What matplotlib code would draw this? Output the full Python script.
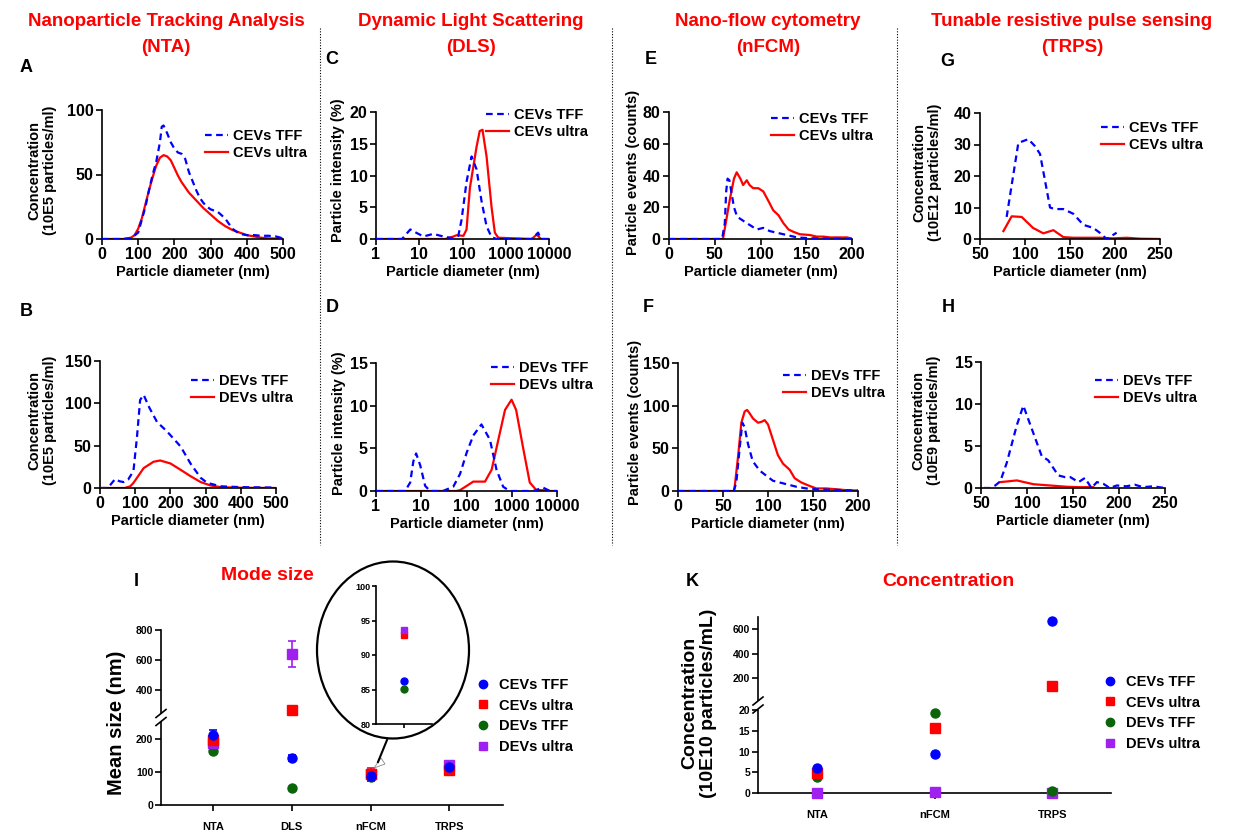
import numpy as np
import matplotlib.pyplot as plt
from matplotlib.patches import Ellipse, Polygon
from matplotlib.lines import Line2D

W, H = 1240, 832

plt.rcParams['font.family'] = ['Liberation Sans', 'DejaVu Sans']
plt.rcParams['font.weight'] = 'bold'
plt.rcParams['axes.labelweight'] = 'bold'
plt.rcParams['axes.linewidth'] = 1.2
plt.rcParams['xtick.major.width'] = 1.2
plt.rcParams['ytick.major.width'] = 1.2
plt.rcParams['xtick.major.size'] = 4
plt.rcParams['ytick.major.size'] = 4

BLUE = '#0000ff'
RED = '#ff0000'
GREEN = '#0a640a'
PURPLE = '#a020f0'

# ---- A: NTA, CEVs ----
a_tff_x = [0, 50, 80, 100, 110, 120, 130, 140, 150, 160, 165, 170, 180, 190, 200, 210, 220, 230, 240, 250,
           260, 270, 280, 290, 300, 320, 340, 360, 380, 400, 420, 440, 460, 480, 500]
a_tff_y = [0, 0, 0.5, 5, 15, 25, 38, 50, 60, 75, 87, 88, 82, 75, 70, 67, 66, 62, 52, 45,
           38, 32, 28, 25, 23, 21, 16, 8, 4, 3, 3, 2.5, 2.5, 2, 0.5]
a_ult_x = [0, 60, 80, 90, 100, 110, 120, 130, 140, 150, 160, 170, 180, 190, 200, 210, 220, 230, 240,
           260, 280, 300, 320, 340, 360, 380, 400, 420, 440, 460, 500]
a_ult_y = [0, 0, 1, 3, 8, 16, 27, 38, 48, 57, 63, 65, 64, 61, 55, 49, 44, 40, 36,
           30, 24, 19, 14, 10, 7, 5, 3, 2, 1, 0.5, 0.2]

# ---- B: NTA, DEVs ----
b_tff_x = [0, 20, 30, 43, 55, 67, 80, 95, 105, 114, 124, 140, 162, 190, 229, 257, 286, 305, 343, 400, 500]
b_tff_y = [0, 0, 4, 10.6, 8, 7, 10, 20, 60, 104, 110, 95, 78, 67, 49, 29, 12, 6, 2, 1, 0.5]
b_ult_x = [0, 70, 86, 95, 105, 124, 152, 171, 200, 229, 257, 286, 314, 343, 400, 500]
b_ult_y = [0, 0, 2, 6, 12, 23.5, 31, 32.5, 29, 21.5, 14, 7, 3, 1, 0.3, 0]

# ---- C: DLS, CEVs ----
c_tff_x = [1, 4, 6.2, 9, 12.5, 21, 36, 62, 80, 95, 124, 162, 211, 275, 360, 470, 610, 4000, 5600, 6500, 10000]
c_tff_y = [0, 0, 1.5, 0.9, 0.4, 0.8, 0.4, 0.1, 0.5, 3, 9, 13, 11, 6, 2, 0.3, 0, 0, 1, 0, 0]
c_ult_x = [1, 40, 62, 73, 105, 124, 148, 211, 250, 290, 360, 470, 560, 670, 4000, 5200, 6500, 10000]
c_ult_y = [0, 0, 0.4, 0.6, 0.5, 1.5, 8, 14.5, 17, 17.2, 13, 5, 1, 0.2, 0, 0.7, 0, 0]

# ---- D: DLS, DEVs ----
d_tff_x = [1, 4.4, 5.7, 6.7, 7.7, 9.5, 12.2, 15.7, 30, 51, 72, 101, 141, 214, 330, 460, 645, 900, 3000, 4900, 7000, 10000]
d_tff_y = [0, 0, 1, 3.5, 4.4, 3, 0.6, 0, 0, 0.5, 2, 4.5, 6.5, 7.8, 6, 2.5, 0.5, 0, 0, 0.4, 0, 0]
d_ult_x = [1, 60, 72, 101, 141, 181, 256, 360, 505, 710, 990, 1250, 1790, 2500, 3500, 4900, 7000, 10000]
d_ult_y = [0, 0, 0.1, 0.6, 1.1, 1.1, 1.1, 2.5, 6, 9.5, 10.7, 9.5, 5, 1, 0.1, 0.1, 0, 0]

# ---- E: nFCM, CEVs ----
e_tff_x = [0, 58, 61, 62.5, 64, 66, 71, 74.5, 85, 96, 103, 110, 125, 140, 154, 200]
e_tff_y = [0, 0, 10, 30, 38, 37, 20, 14, 10, 6, 7, 5, 3, 1, 0.5, 0]
e_ult_x = [0, 59, 66.5, 71, 74, 78, 81, 85, 88, 92, 97.6, 103, 108.6, 114, 119.6, 125, 130.6, 136,
           143, 154, 161.6, 169, 176, 187, 194.5, 200]
e_ult_y = [0, 0, 25, 38, 42, 38, 34, 37, 34, 32, 32, 30, 24, 18, 15, 10, 6, 4.5,
           3, 2.5, 1.5, 1.5, 1, 1, 1, 0.3]

# ---- F: nFCM, DEVs ----
f_tff_x = [0, 62, 64.8, 68.5, 71.5, 74, 77.8, 83, 90.7, 98, 105.5, 116.7, 131.5, 142.6, 153.7, 200]
f_tff_y = [0, 0, 10, 50, 80, 75, 55, 35, 24, 18, 12, 9, 5, 3, 2, 0.5]
f_ult_x = [0, 62, 63, 66.7, 70.4, 74, 76.7, 79.6, 83.3, 88.9, 92.6, 96.3, 100, 105.5, 111, 116.7, 124,
           129.6, 137, 146, 153.7, 164.8, 176, 187, 200]
f_ult_y = [0, 0, 5, 40, 80, 93, 95, 91, 85, 80, 81, 83, 78, 60, 42, 32, 25,
           15, 10, 6, 3, 3, 2, 1, 0.5]

# ---- G: TRPS, CEVs ----
g_tff_x = [79.6, 92.6, 103.7, 111, 116.7, 127.8, 133, 142.6, 153.7, 164.8, 176, 183, 190.7, 201.8]
g_tff_y = [7, 30.5, 31.7, 29.5, 27, 10, 9.5, 9.5, 8, 4.5, 3.5, 2, 0, 2]
g_ult_x = [76, 85.2, 96.3, 109, 120.4, 131.5, 142.6, 153.7, 168.5, 183, 198, 213, 227.8, 250]
g_ult_y = [2.5, 7.2, 7, 3.5, 1.8, 2.8, 0.6, 0.4, 0.4, 0.4, 0.2, 0.4, 0.1, 0]

# ---- H: TRPS, DEVs ----
h_tff_x = [53, 60, 65.5, 71, 78, 89, 96, 107, 116, 123, 134, 141, 147, 156, 163, 170, 176, 183, 190,
           197.6, 208, 217, 226, 237, 250]
h_tff_y = [0, 0, 0.3, 0.8, 3, 7.5, 9.8, 6.5, 3.8, 3.3, 1.5, 1.3, 1.3, 0.7, 1.2, 0, 0.7, 0.5, 0,
           0.3, 0.2, 0.4, 0.1, 0.2, 0]
h_ult_x = [71, 89, 107, 125, 143, 157, 172]
h_ult_y = [0.7, 0.9, 0.45, 0.3, 0.15, 0.1, 0.1]

# ---- I: mode size ----
methods_i = ['NTA', 'DLS', 'nFCM', 'TRPS']
mode_cev_tff = [212, 142, 86.2, 114]
mode_cev_tff_err = [14, 10, 15, 5]
mode_cev_ult = [197, 268, 92.9, 106]
mode_cev_ult_err = [10, 0, 18, 0]
mode_dev_tff = [164, 51, 85.1, 112]
mode_dev_ult = [187, 640, 93.6, 119]
mode_dev_ult_err = [0, 85, 0, 0]

# ---- K: concentration ----
methods_k = ['NTA', 'nFCM', 'TRPS']
conc_cev_tff = [6.1, 9.3, 668]
conc_cev_ult = [4.7, 15.6, 137]
conc_dev_tff = [3.8, 19.2, 0.5]
conc_dev_ult = [0.1, 0.2, 0.1]

fig = plt.figure(figsize=(12.4, 8.32), dpi=100)


def box(l, t, r, b):
    return [l / W, 1 - b / H, (r - l) / W, (b - t) / H]


def fp(x, y):
    return x / W, 1 - y / H


TICK_FS = 11.5
LAB_FS = 10.5


def dist_panel(rect, tff, ult, labels, xlim, xticks, ylim, yticks, leg, ylabel, ylab_xy, log=False):
    ax = fig.add_axes(box(*rect))
    ax.plot(tff[0], tff[1], color=BLUE, lw=1.6, ls=(0, (3, 2)), label=labels[0], zorder=3)
    ax.plot(ult[0], ult[1], color=RED, lw=1.6, label=labels[1], zorder=2)
    if log:
        ax.set_xscale('log')
        ax.minorticks_off()
        ax.set_xticks(xticks)
        ax.set_xticklabels([str(v) for v in xticks])
    else:
        ax.set_xticks(xticks)
    ax.set_xlim(*xlim)
    ax.set_ylim(*ylim)
    ax.set_yticks(yticks)
    for s in ['top', 'right']:
        ax.spines[s].set_visible(False)
    ax.tick_params(labelsize=TICK_FS, pad=2)
    ax.set_xlabel('Particle diameter (nm)', fontsize=LAB_FS, labelpad=2)
    fig.text(*fp(*ylab_xy), ylabel, rotation=90, ha='center', va='center',
             fontsize=LAB_FS, multialignment='center', linespacing=1.1)
    ax.legend(loc='upper left', bbox_to_anchor=fp(leg[0], leg[1] - 6), bbox_transform=fig.transFigure,
              frameon=False, fontsize=10.5, borderpad=0, borderaxespad=0, labelspacing=0.2,
              handlelength=1.6, handletextpad=0.35)
    return ax


dist_panel((102, 110, 283, 239), (a_tff_x, a_tff_y), (a_ult_x, a_ult_y), ['CEVs TFF', 'CEVs ultra'],
           (0, 500), [0, 100, 200, 300, 400, 500], (0, 100), [0, 50, 100], (205, 135),
           'Concentration\n(10E5 particles/ml)', (42, 170))
dist_panel((100, 361, 276, 488), (b_tff_x, b_tff_y), (b_ult_x, b_ult_y), ['DEVs TFF', 'DEVs ultra'],
           (0, 500), [0, 100, 200, 300, 400, 500], (0, 150), [0, 50, 100, 150], (191, 380),
           'Concentration\n(10E5 particles/ml)', (42, 420))
dist_panel((376, 112, 549, 239), (c_tff_x, c_tff_y), (c_ult_x, c_ult_y), ['CEVs TFF', 'CEVs ultra'],
           (1, 10000), [1, 10, 100, 1000, 10000], (0, 20), [0, 5, 10, 15, 20], (486, 114),
           'Particle intensity (%)', (338, 170), log=True)
dist_panel((376, 363, 557, 491), (d_tff_x, d_tff_y), (d_ult_x, d_ult_y), ['DEVs TFF', 'DEVs ultra'],
           (1, 10000), [1, 10, 100, 1000, 10000], (0, 15), [0, 5, 10, 15], (491, 367),
           'Particle intensity (%)', (339, 423), log=True)
dist_panel((669, 112, 852, 239), (e_tff_x, e_tff_y), (e_ult_x, e_ult_y), ['CEVs TFF', 'CEVs ultra'],
           (0, 200), [0, 50, 100, 150, 200], (0, 80), [0, 20, 40, 60, 80], (771, 118),
           'Particle events (counts)', (633, 172))
dist_panel((678, 363, 858, 491), (f_tff_x, f_tff_y), (f_ult_x, f_ult_y), ['DEVs TFF', 'DEVs ultra'],
           (0, 200), [0, 50, 100, 150, 200], (0, 150), [0, 50, 100, 150], (783, 375),
           'Particle events (counts)', (635, 422))
dist_panel((980, 113, 1160, 239), (g_tff_x, g_tff_y), (g_ult_x, g_ult_y), ['CEVs TFF', 'CEVs ultra'],
           (50, 250), [50, 100, 150, 200, 250], (0, 40), [0, 10, 20, 30, 40], (1101, 127),
           'Concentration\n(10E12 particles/ml)', (927, 172))
dist_panel((981, 362, 1165, 488), (h_tff_x, h_tff_y), (h_ult_x, h_ult_y), ['DEVs TFF', 'DEVs ultra'],
           (50, 250), [50, 100, 150, 200, 250], (0, 15), [0, 5, 10, 15], (1095, 380),
           'Concentration\n(10E9 particles/ml)', (926, 420))

# section titles
TITLE_FS = 13.5
for cx, l1, l2 in [(166, 'Nanoparticle Tracking Analysis', '(NTA)'),
                   (471, 'Dynamic Light Scattering', '(DLS)'),
                   (768, 'Nano-flow cytometry', '(nFCM)'),
                   (1072, 'Tunable resistive pulse sensing', '(TRPS)')]:
    fig.text(*fp(cx, 22), l1, color=RED, fontsize=TITLE_FS, ha='center', va='center')
    fig.text(*fp(cx, 47), l2, color=RED, fontsize=TITLE_FS, ha='center', va='center')

for lx, ly, s in [(20, 68, 'A'), (20, 312, 'B'), (325, 60, 'C'), (326, 308, 'D'),
                  (645, 60, 'E'), (643, 308, 'F'), (940, 62, 'G'), (942, 308, 'H'),
                  (134, 582, 'I'), (686, 582, 'K')]:
    fig.text(*fp(lx, ly), s, fontsize=13, ha='left', va='center')

# dotted separators
for sx in [320, 612, 897]:
    fig.add_artist(Line2D([sx / W, sx / W], [1 - 28 / H, 1 - 545 / H], ls=(0, (1, 1.5)),
                          color='black', lw=0.8, transform=fig.transFigure))


def in_range(vals, lim):
    return np.array([v if lim[0] <= v <= lim[1] else np.nan for v in vals], dtype=float)


def scatter_series(axs, xs, vals, errs, color, marker):
    for ax in axs:
        lim = ax.get_ylim()
        v = in_range(vals, lim)
        if errs is not None:
            e = np.array(errs, dtype=float)
            keep = (e > 0) & ~np.isnan(v)
            if keep.any():
                ax.errorbar(np.asarray(xs)[keep], v[keep], yerr=e[keep], fmt='none', ecolor=color,
                            elinewidth=1.2, capsize=3, capthick=1.2, zorder=3, clip_on=False)
        ax.plot(xs, v, ls='none', marker=marker, color=color, ms=6.5, zorder=4, clip_on=False)


def broken_axes(lo_rect, hi_rect, xlim, lo_lim, lo_ticks, hi_lim, hi_ticks, cats):
    lo = fig.add_axes(box(*lo_rect))
    hi = fig.add_axes(box(*hi_rect))
    for ax in (lo, hi):
        ax.patch.set_alpha(0)
        ax.spines['top'].set_visible(False)
        ax.spines['right'].set_visible(False)
        ax.set_xlim(*xlim)
        ax.tick_params(labelsize=7.5, pad=1.5, length=4)
    hi.spines['bottom'].set_visible(False)
    hi.set_xticks([])
    lo.set_ylim(*lo_lim)
    lo.set_yticks(lo_ticks)
    hi.set_ylim(*hi_lim)
    hi.set_yticks(hi_ticks)
    lo.set_xticks(range(1, len(cats) + 1))
    lo.set_xticklabels(cats, fontsize=8)
    lo.tick_params(axis='x', pad=8)
    return lo, hi


def fig_legend(x, y):
    handles = [Line2D([], [], ls='none', marker='o', color=BLUE, ms=6),
               Line2D([], [], ls='none', marker='s', color=RED, ms=6),
               Line2D([], [], ls='none', marker='o', color=GREEN, ms=6),
               Line2D([], [], ls='none', marker='s', color=PURPLE, ms=6)]
    fig.legend(handles, ['CEVs TFF', 'CEVs ultra', 'DEVs TFF', 'DEVs ultra'], loc='upper left',
               bbox_to_anchor=fp(x, y), bbox_transform=fig.transFigure, frameon=False, fontsize=10.5,
               borderpad=0, borderaxespad=0, labelspacing=0.45, handlelength=1.0, handletextpad=0.6)


# ---- I: mode size ----
xi = np.arange(1, 5)
lo_i, hi_i = broken_axes((161, 722, 503, 805), (161, 630, 503, 713), (0.34, 4.68),
                         (0, 250), [0, 100, 200], (250, 800), [400, 600, 800], methods_i)
scatter_series((lo_i, hi_i), xi, mode_dev_tff, None, GREEN, 'o')
scatter_series((lo_i, hi_i), xi, mode_dev_ult, mode_dev_ult_err, PURPLE, 's')
scatter_series((lo_i, hi_i), xi, mode_cev_ult, mode_cev_ult_err, RED, 's')
scatter_series((lo_i, hi_i), xi, mode_cev_tff, mode_cev_tff_err, BLUE, 'o')
fig.text(*fp(267, 576), 'Mode size', color=RED, fontsize=14, ha='center', va='center')
fig.text(*fp(117, 723), 'Mean size (nm)', rotation=90, ha='center', va='center', fontsize=14.5)
fig_legend(476, 678)

# break marks
for bx, by in [(161, 717.5), (758, 705)]:
    for dy in (-4, 4):
        fig.add_artist(Line2D([(bx - 5) / W, (bx + 5) / W], [1 - (by + dy + 4) / H, 1 - (by + dy - 4) / H],
                              color='black', lw=1.2, transform=fig.transFigure))

# inset zoom of nFCM
ell = Ellipse(fp(393, 650), 152 / W, 177 / H, transform=fig.transFigure, fill=False, lw=1.6,
              edgecolor='black', zorder=1)
fig.add_artist(ell)
ins = fig.add_axes(box(376, 586, 432, 724))
ins.patch.set_alpha(0)
for s in ['top', 'right']:
    ins.spines[s].set_visible(False)
ins.set_xlim(0.5, 1.5)
ins.set_ylim(80, 100)
ins.set_yticks([80, 85, 90, 95, 100])
ins.set_xticks([1])
ins.set_xticklabels([''])
ins.tick_params(labelsize=6.5, pad=1, length=3)
ins.plot([1], [mode_cev_ult[2]], 's', color=RED, ms=5)
ins.plot([1], [mode_dev_ult[2]], 's', color=PURPLE, ms=5)
ins.plot([1], [mode_cev_tff[2]], 'o', color=BLUE, ms=5)
ins.plot([1], [mode_dev_tff[2]], 'o', color=GREEN, ms=5)
fig.add_artist(Line2D([387 / W, 378 / W], [1 - 740 / H, 1 - 762 / H], color='black', lw=1.5,
                      transform=fig.transFigure))
fig.add_artist(Polygon([fp(374, 768), fp(381, 758), fp(385, 764)], closed=True, facecolor='white',
                       edgecolor='#888888', lw=0.6, transform=fig.transFigure))

# ---- K: concentration ----
xk = np.arange(1, 4)
lo_k, hi_k = broken_axes((758, 710, 1111, 793), (758, 617, 1111, 700), (0.5, 3.5),
                         (0, 20), [0, 5, 10, 15, 20], (20, 700), [200, 400, 600], methods_k)
scatter_series((lo_k, hi_k), xk, conc_dev_ult, None, PURPLE, 's')
scatter_series((lo_k, hi_k), xk, conc_dev_tff, None, GREEN, 'o')
scatter_series((lo_k, hi_k), xk, conc_cev_ult, None, RED, 's')
scatter_series((lo_k, hi_k), xk, conc_cev_tff, None, BLUE, 'o')
fig.text(*fp(948, 582), 'Concentration', color=RED, fontsize=14, ha='center', va='center')
fig.text(*fp(699, 703), 'Concentration\n(10E10 particles/mL)', rotation=90, ha='center', va='center',
         fontsize=14, multialignment='center', linespacing=1.1)
fig_legend(1103, 675)

fig.savefig('out.png', dpi=100)
